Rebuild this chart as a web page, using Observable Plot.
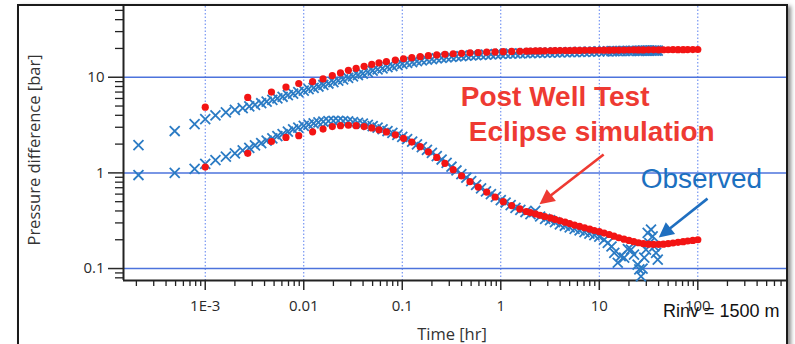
<!DOCTYPE html>
<html><head><meta charset="utf-8">
<script src="https://cdn.jsdelivr.net/npm/d3@7"></script>
<script src="https://cdn.jsdelivr.net/npm/@observablehq/plot@0.6"></script>
<style>
html,body{margin:0;padding:0;background:#fff;overflow:hidden;}
#wrap{position:relative;width:795px;height:344px;overflow:hidden;background:#fff;}
#frame{position:absolute;left:17px;top:4px;width:767px;height:420px;border:2px solid #1b1b1b;box-shadow:3px 2px 4px rgba(0,0,0,0.45);background:#fff;}
#chart{position:absolute;left:0;top:0;}
</style></head><body>
<div id="wrap"><div id="frame"></div><div id="chart"></div></div>
<script>
// ---- Observed (blue crosses): time [hr], pressure difference, derivative [bar]
const obsT = [2.1e-4,4.9e-4,7.8e-4,1.0e-3,1.27e-3,1.62e-3,2.0e-3,2.4e-3,2.8e-3,3.2e-3,3.7e-3,4.2e-3,4.8e-3,5.4e-3,6.1e-3,6.9e-3,7.8e-3,8.8e-3,
 0.01,0.0112,0.0126,0.0141,0.0158,0.0178,0.02,0.0224,0.0251,0.0282,0.0316,0.0355,0.0398,0.0447,0.0501,0.0562,0.0631,0.0708,0.0794,0.0891,
 0.1,0.112,0.126,0.141,0.158,0.178,0.2,0.224,0.251,0.282,0.316,0.355,0.398,0.447,0.501,0.562,0.631,0.708,0.794,0.891,
 1,1.12,1.26,1.41,1.58,1.78,2,2.24,2.51,2.82,3.16,3.55,3.98,4.47,5.01,5.62,6.31,7.08,7.94,8.91,
 10,11.2,12.2,13.3,14.2,15.4,16.5,17.9,19.5,21,22.5,24.5,25.5,26.5,27.5,28.6,29.8,31,32.2,33.5,34.8,36.2,37.7,39.2];
const obsP = [1.95,2.74,3.24,3.65,4.0,4.3,4.55,4.75,4.95,5.15,5.35,5.55,5.8,6.0,6.25,6.5,6.75,7.0,
 7.25,7.5,7.75,8.0,8.3,8.6,8.9,9.2,9.5,9.85,10.2,10.55,10.9,11.3,11.7,12.05,12.4,12.75,13.1,13.45,
 13.8,14.1,14.4,14.7,15.0,15.25,15.5,15.75,15.95,16.15,16.35,16.5,16.65,16.8,16.95,17.05,17.15,17.25,17.35,17.45,
 17.55,17.62,17.69,17.75,17.8,17.85,17.9,17.95,18.0,18.05,18.1,18.15,18.2,18.25,18.3,18.35,18.4,18.45,18.5,18.55,
 18.6,18.65,18.68,18.71,18.74,18.77,18.8,18.82,18.84,18.86,18.88,18.9,18.91,18.92,18.93,18.94,18.95,18.96,18.97,18.98,18.99,19.0,19.01,19.02];
const obsD = [0.95,1.0,1.1,1.24,1.36,1.48,1.6,1.72,1.83,1.94,2.05,2.17,2.3,2.42,2.55,2.7,2.85,2.98,
 3.1,3.2,3.3,3.38,3.44,3.48,3.5,3.5,3.48,3.45,3.4,3.34,3.27,3.18,3.08,2.98,2.86,2.74,2.62,2.5,
 2.38,2.25,2.12,1.99,1.86,1.74,1.62,1.5,1.38,1.27,1.16,1.06,0.97,0.89,0.82,0.75,0.69,0.64,0.6,0.56,
 0.52,0.49,0.46,0.43,0.41,0.39,0.37,0.4,0.35,0.33,0.32,0.305,0.29,0.28,0.27,0.26,0.25,0.24,0.232,0.224,
 0.215,0.2,0.185,0.17,0.146,0.115,0.135,0.13,0.16,0.158,0.14,0.11,0.098,0.083,0.1,0.13,0.158,0.236,0.185,0.255,0.217,0.17,0.146,0.124];

// ---- Post Well Test Eclipse simulation (red dots)
const simT = [0.001,0.0027,0.0047,0.0066,0.0089,0.0123,0.0157,0.0195,0.0236,0.0284,0.034,0.041,0.049,0.058,0.069,0.085,0.103,0.125,0.152,0.184,
 0.224,0.271,0.329,0.4,0.487,0.59,0.72,0.875,1.06,1.29,1.56,1.82,2.0,2.25,2.5,2.8,3.2,3.55,4.0,4.5,5.0,5.6,6.3,7.1,8.0,8.9,
 10,11.2,12.6,14.1,15.8,17.8,20,22.4,25,28,31.6,35.5,40,44.7,50,56,63,71,79,89,100];
const simP = [4.87,6.15,7.0,7.9,8.6,9.0,9.6,10.4,11.1,11.8,12.4,13.0,13.6,14.1,14.6,15.1,15.6,16.0,16.4,16.8,
 17.1,17.35,17.6,17.8,18.0,18.15,18.3,18.4,18.5,18.6,18.7,18.75,18.8,18.83,18.86,18.89,18.92,18.95,18.98,19.0,19.03,19.05,19.08,19.1,19.12,19.14,
 19.16,19.18,19.2,19.22,19.24,19.26,19.27,19.29,19.3,19.32,19.33,19.35,19.36,19.38,19.39,19.41,19.42,19.44,19.46,19.47,19.49];
const simD = [1.15,1.6,2.13,2.35,2.45,2.69,2.87,3.05,3.12,3.15,3.12,3.05,2.95,2.82,2.68,2.5,2.3,2.1,1.88,1.66,
 1.45,1.26,1.08,0.93,0.81,0.71,0.63,0.56,0.5,0.455,0.42,0.395,0.385,0.372,0.36,0.35,0.338,0.327,0.316,0.305,0.295,0.285,0.276,0.267,0.258,0.25,
 0.243,0.235,0.227,0.218,0.21,0.203,0.197,0.191,0.186,0.182,0.18,0.179,0.179,0.18,0.182,0.185,0.188,0.191,0.194,0.197,0.2];

// ---- axes
const xDomain = [1.48e-4, 795];
const yDomain = [0.075, 54.9];
const xTicks = [0.001, 0.01, 0.1, 1, 10, 100];
const xTickLabels = ["1E-3", "0.01", "0.1", "1", "10", "100"];
const yTicks = [0.1, 1, 10];
const yTickLabels = ["0.1", "1", "10"];

// ---- annotations (data coordinates)
const annoRed = [{t: 3.56, v: 6.19, text: "Post Well Test"}, {t: 8.39, v: 2.67, text: "Eclipse simulation"}];
const annoBlue = [{t: 108.6, v: 0.86, text: "Observed"}];
const arrowRed = {t1: 11.2, v1: 1.54, t2: 2.5, v2: 0.464};
const arrowBlue = {t1: 127, v1: 0.532, t2: 40.6, v2: 0.209};

const obs = obsT.map((t, i) => ({t, p: obsP[i], d: obsD[i]}));
const sim = simT.map((t, i) => ({t, p: simP[i], d: simD[i]}));

function minorTicks([lo, hi]) {
  const out = [];
  for (let e = Math.floor(Math.log10(lo)); e <= Math.ceil(Math.log10(hi)); e++) {
    for (let m = 2; m <= 9; m++) { const v = m * Math.pow(10, e); if (v >= lo && v <= hi) out.push(v); }
  }
  return out;
}
const xMinor = minorTicks(xDomain);
const yMinor = minorTicks(yDomain);
const xLab = new Map(xTicks.map((d, i) => [d, xTickLabels[i]]));
const yLab = new Map(yTicks.map((d, i) => [d, yTickLabels[i]]));

const BLUE = "#2b7bc4", RED = "#f31414";
const chart = Plot.plot({
  width: 795, height: 344,
  marginLeft: 123, marginRight: 9, marginTop: 6, marginBottom: 64,
  style: {background: "transparent", fontFamily: "'Open Sans', sans-serif", fontSize: "15px", color: "#222", overflow: "visible"},
  x: {type: "log", domain: xDomain, label: null},
  y: {type: "log", domain: yDomain, label: null},
  marks: [
    Plot.gridX(xTicks, {stroke: "#5b80f0", strokeOpacity: 1, strokeWidth: 1, strokeDasharray: "1.5,2"}),
    Plot.gridY(yTicks, {stroke: "#4d73dc", strokeOpacity: 1, strokeWidth: 1.5}),
    Plot.axisX(xMinor, {anchor: "bottom", tickSize: 6, tickFormat: () => "", label: null, color: "#222", strokeWidth: 1.3}),
    Plot.axisX(xTicks, {anchor: "bottom", tickSize: 10, tickPadding: 10, tickFormat: d => xLab.get(d), label: null, color: "#2a2a2a", strokeWidth: 1.5, fontSize: 15}),
    Plot.axisY(yMinor, {anchor: "left", tickSize: 8, tickFormat: () => "", label: null, color: "#222", strokeWidth: 1.3}),
    Plot.axisY(yTicks, {anchor: "left", tickSize: 15, tickPadding: 4, tickFormat: d => yLab.get(d), label: null, color: "#2a2a2a", strokeWidth: 1.5, fontSize: 15}),
    Plot.ruleX([xDomain[0]], {stroke: "#222", strokeWidth: 2}),
    Plot.ruleY([yDomain[0]], {stroke: "#222", strokeWidth: 2}),
    Plot.dot(obs, {x: "t", y: "p", symbol: "times", r: 4.6, stroke: BLUE, strokeWidth: 1.8}),
    Plot.dot(obs, {x: "t", y: "d", symbol: "times", r: 4.6, stroke: BLUE, strokeWidth: 1.8}),
    Plot.dot(sim, {x: "t", y: "p", r: 3.6, fill: RED, stroke: "none"}),
    Plot.dot(sim, {x: "t", y: "d", r: 3.6, fill: RED, stroke: "none"}),
    Plot.text(annoRed, {x: "t", y: "v", text: "text", fill: "#ee3a32", fontSize: 28, fontWeight: "bold", fontFamily: "'Liberation Sans', Arial, sans-serif", textAnchor: "middle"}),
    Plot.text(annoBlue, {x: "t", y: "v", text: "text", fill: "#1c70bf", fontSize: 28, fontFamily: "'Liberation Sans', Arial, sans-serif", textAnchor: "middle"})
  ]
});
document.getElementById("chart").appendChild(chart);
const svg = d3.select(chart.tagName.toLowerCase() === "svg" ? chart : chart.querySelector("svg"));
const sx = chart.scale("x"), sy = chart.scale("y");

function drawArrow(a, color) {
  const x1 = sx.apply(a.t1), y1 = sy.apply(a.v1), x2 = sx.apply(a.t2), y2 = sy.apply(a.v2);
  const dx = x2 - x1, dy = y2 - y1, L = Math.hypot(dx, dy), ux = dx / L, uy = dy / L;
  const hl = 15, hw = 7.5, bx = x2 - ux * hl, by = y2 - uy * hl;
  svg.append("line").attr("x1", x1).attr("y1", y1).attr("x2", bx + ux * 2).attr("y2", by + uy * 2)
    .attr("stroke", color).attr("stroke-width", 2.6);
  svg.append("polygon").attr("points", `${x2},${y2} ${bx - uy * hw},${by + ux * hw} ${bx + uy * hw},${by - ux * hw}`)
    .attr("fill", color);
}
drawArrow(arrowRed, "#ee3a32");
drawArrow(arrowBlue, "#1f6fc0");

svg.append("text").attr("transform", "translate(40,150) rotate(-90)").attr("text-anchor", "middle")
  .attr("font-family", "'Open Sans', sans-serif").attr("font-size", 16.5).attr("fill", "#333")
  .text("Pressure difference [bar]");
svg.append("text").attr("x", 452).attr("y", 340).attr("text-anchor", "middle")
  .attr("font-family", "'Open Sans', sans-serif").attr("font-size", 16.5).attr("fill", "#333")
  .text("Time [hr]");
svg.append("text").attr("x", 663).attr("y", 317).attr("text-anchor", "start")
  .attr("font-family", "'Liberation Sans', Arial, sans-serif").attr("font-size", 18).attr("fill", "#111")
  .text("Rinv = 1500 m");
</script>
</body></html>
